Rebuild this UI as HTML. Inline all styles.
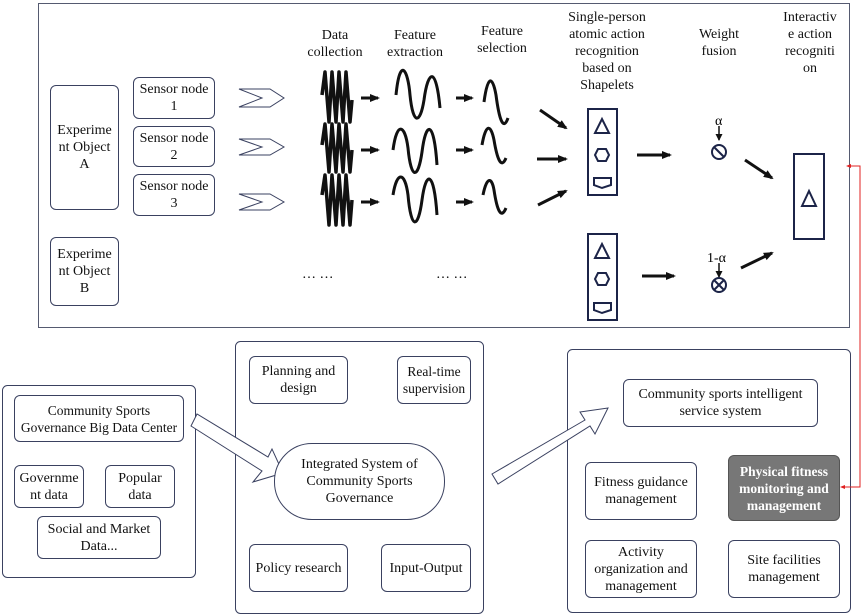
<!DOCTYPE html>
<html><head><meta charset="utf-8"><style>
body{margin:0;width:864px;height:615px;background:#fff;position:relative;overflow:hidden;font-family:"Liberation Serif",serif;font-size:14px;color:#111}
.b{position:absolute;box-sizing:border-box;border:1px solid #3a4160;border-radius:6px;display:flex;align-items:center;justify-content:center;text-align:center;line-height:17px;background:#fff}
.t{position:absolute;text-align:center;line-height:17px;font-size:14px}
svg{position:absolute;left:0;top:0}
</style></head><body>
<svg width="864" height="615" viewBox="0 0 864 615">
<defs><marker id="ah" markerWidth="10" markerHeight="10" refX="8" refY="5" orient="auto" markerUnits="userSpaceOnUse"><path d="M0,1 L10,5 L0,9 z" fill="#111"/></marker>
<marker id="as" markerWidth="7" markerHeight="7" refX="6" refY="3.5" orient="auto" markerUnits="userSpaceOnUse"><path d="M0,0 L7,3.5 L0,7 z" fill="#111"/></marker></defs>
<rect x="38.5" y="3.5" width="811" height="324" fill="none" stroke="#555a70" stroke-width="1"/>
<rect x="2.5" y="385.5" width="193" height="192" rx="5" fill="none" stroke="#3a4160"/>
<rect x="235.5" y="341.5" width="248" height="272" rx="5" fill="none" stroke="#3a4160"/>
<rect x="567.5" y="349.5" width="283" height="263" rx="5" fill="none" stroke="#3a4160"/>
<g fill="none" stroke="#3a4160" stroke-width="1">
<path d="M239,89 L270,89 L284,98 L270,107 L239,107 L262,98 Z"/>
<path d="M239,139 L270,139 L284,147 L270,155 L239,155 L262,147 Z"/>
<path d="M239,194 L270,194 L284,202 L270,210 L239,210 L262,202 Z"/>
</g>
<g fill="none" stroke="#111" stroke-width="3.5" stroke-linejoin="round">
<path d="M322,95 L325,72 L329,122 L332,72 L336,122 L339,72 L343,122 L346,72 L350,122 L352,100"/>
<path d="M322,145 L325,124 L329,172 L332,124 L336,172 L339,124 L343,172 L346,124 L350,172 L352,150"/>
<path d="M322,195 L325,175 L329,225 L332,175 L336,225 L339,175 L343,225 L346,175 L350,225 L352,200"/>
</g>
<g fill="none" stroke="#111" stroke-width="3">
<path d="M396,95 C400,55 408,70 410,95 C413,125 420,125 424,100 C428,70 436,65 440,108"/>
<path d="M393,150 C397,120 405,125 408,148 C411,180 418,180 422,152 C426,120 434,120 437,165"/>
<path d="M393,195 C397,170 405,172 408,195 C411,230 418,230 422,200 C426,170 434,170 437,215"/>
<path d="M484,102 C488,72 493,78 496,95 C499,118 503,132 508,118"/>
<path d="M482,145 C486,122 491,125 494,140 C497,158 501,170 506,158"/>
<path d="M483,195 C487,175 492,178 494,190 C497,210 501,220 506,208"/>
</g>
<g stroke="#111" stroke-width="3" marker-end="url(#ah)">
<line x1="361" y1="98" x2="378" y2="98"/><line x1="361" y1="150" x2="378" y2="150"/><line x1="361" y1="202" x2="378" y2="202"/>
<line x1="456" y1="98" x2="472" y2="98"/><line x1="456" y1="150" x2="472" y2="150"/><line x1="456" y1="202" x2="472" y2="202"/>
<line x1="540" y1="110" x2="566" y2="128"/><line x1="537" y1="159" x2="566" y2="159"/><line x1="538" y1="205" x2="566" y2="191"/>
<line x1="637" y1="155" x2="670" y2="155"/><line x1="642" y1="276" x2="674" y2="276"/>
<line x1="745" y1="160" x2="772" y2="178"/><line x1="741" y1="268" x2="772" y2="253"/>
</g>
<g stroke="#111" stroke-width="1.5" marker-end="url(#as)">
<line x1="719" y1="126" x2="719" y2="140"/><line x1="719" y1="263" x2="719" y2="277"/>
</g>
<g fill="none" stroke="#1c2448" stroke-width="2">
<rect x="588" y="109" width="29" height="86"/>
<rect x="588" y="234" width="29" height="86"/>
<rect x="794" y="154" width="30" height="85"/>
<path d="M595,133 L602,119 L609,133 Z"/><path d="M598,149 L606,149 L609,155 L606,161 L598,161 L595,155 Z"/><path d="M594,178 L611,178 L611,185 L602,188 L594,185 Z"/>
<path d="M595,258 L602,244 L609,258 Z"/><path d="M598,273 L606,273 L609,279 L606,285 L598,285 L595,279 Z"/><path d="M594,303 L611,303 L611,310 L602,313 L594,310 Z"/>
<path d="M802,206 L809,191 L816,206 Z"/>
<circle cx="719" cy="152" r="7"/><line x1="714" y1="147" x2="724" y2="157"/>
<circle cx="719" cy="285" r="7"/><line x1="714" y1="280" x2="724" y2="290"/><line x1="724" y1="280" x2="714" y2="290"/>
</g>
<g stroke="#e02020" stroke-width="1" fill="none">
<polyline points="850,166 860,166 860,487 842,487"/>
</g>
<path d="M846,166 L851,164 L851,168 Z" fill="#e02020"/><path d="M840,487 L845,485 L845,489 Z" fill="#e02020"/>
<path d="M191,426 L197,414 L268,457 L272,449 L283,473 L253,482 L262,471 Z" fill="#fff" stroke="#3a4160"/>
<path d="M492,474 L585,420 L580,412 L608,408 L595,434 L590,426 L498,484 Z" fill="#fff" stroke="#3a4160"/>
<text x="302" y="278" font-size="14" font-family="Liberation Serif">…  …</text>
<text x="436" y="278" font-size="14" font-family="Liberation Serif">…  …</text>
<text x="715" y="125" font-size="14" font-family="Liberation Serif">α</text>
<text x="707" y="262" font-size="14" font-family="Liberation Serif">1-α</text>
</svg>
<div class="t" style="left:295px;top:27px;width:80px">Data<br>collection</div>
<div class="t" style="left:375px;top:27px;width:80px">Feature<br>extraction</div>
<div class="t" style="left:462px;top:23px;width:80px">Feature<br>selection</div>
<div class="t" style="left:552px;top:9px;width:110px">Single-person<br>atomic action<br>recognition<br>based on<br>Shapelets</div>
<div class="t" style="left:679px;top:26px;width:80px">Weight<br>fusion</div>
<div class="t" style="left:770px;top:9px;width:80px">Interactiv<br>e action<br>recogniti<br>on</div>
<div class="b" style="left:50px;top:85px;width:69px;height:125px">Experime<br>nt Object<br>A</div>
<div class="b" style="left:50px;top:237px;width:69px;height:69px">Experime<br>nt Object<br>B</div>
<div class="b" style="left:133px;top:77px;width:82px;height:42px">Sensor node<br>1</div>
<div class="b" style="left:133px;top:126px;width:82px;height:41px">Sensor node<br>2</div>
<div class="b" style="left:133px;top:174px;width:82px;height:42px">Sensor node<br>3</div>
<div class="b" style="left:14px;top:395px;width:170px;height:47px;font-size:13.5px">Community Sports<br>Governance Big Data Center</div>
<div class="b" style="left:14px;top:465px;width:70px;height:43px">Governme<br>nt data</div>
<div class="b" style="left:105px;top:465px;width:70px;height:43px">Popular<br>data</div>
<div class="b" style="left:37px;top:516px;width:124px;height:43px">Social and Market<br>Data...</div>
<div class="b" style="left:249px;top:356px;width:99px;height:48px">Planning and<br>design</div>
<div class="b" style="left:397px;top:356px;width:74px;height:48px;font-size:13.5px">Real-time<br>supervision</div>
<div class="b" style="left:274px;top:443px;width:171px;height:77px;border-radius:38px">Integrated System of<br>Community Sports<br>Governance</div>
<div class="b" style="left:249px;top:544px;width:99px;height:48px">Policy research</div>
<div class="b" style="left:381px;top:544px;width:90px;height:48px">Input-Output</div>
<div class="b" style="left:623px;top:379px;width:195px;height:48px">Community sports intelligent<br>service system</div>
<div class="b" style="left:585px;top:462px;width:112px;height:58px">Fitness guidance<br>management</div>
<div class="b" style="left:728px;top:455px;width:112px;height:66px;background:#777;color:#fff;font-weight:bold;border-color:#555;font-size:13.5px">Physical fitness<br>monitoring and<br>management</div>
<div class="b" style="left:585px;top:540px;width:112px;height:58px">Activity<br>organization and<br>management</div>
<div class="b" style="left:728px;top:540px;width:112px;height:58px">Site facilities<br>management</div>
</body></html>
